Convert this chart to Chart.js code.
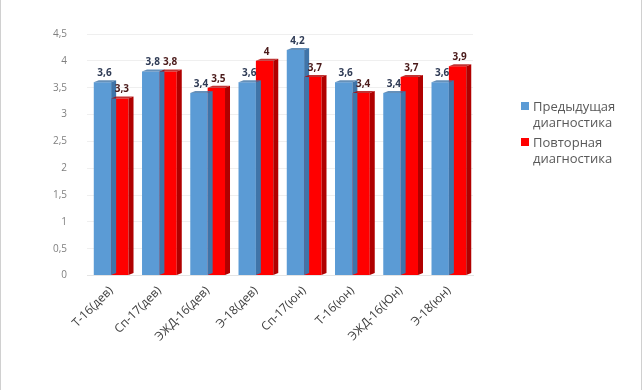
<!DOCTYPE html>
<html>
<head>
<meta charset="utf-8">
<script src="https://cdn.jsdelivr.net/npm/chart.js@4.4.1/dist/chart.umd.min.js"></script>
<style>
  html, body { margin: 0; padding: 0; background: #fff; }
  #wrap { position: relative; width: 642px; height: 390px; box-sizing: border-box;
          border-left: 1px solid #d0d0d0; border-right: 1px solid #d0d0d0; }
  #legend { position: absolute; left: 520px; top: 98px; font-family: "Open Sans", "DejaVu Sans", sans-serif;
            font-size: 13px; color: #595959; line-height: 16px; }
  #legend .item { position: relative; padding-left: 12px; margin-bottom: 4px; }
  #legend .sw { position: absolute; left: 0; top: 4px; width: 8px; height: 8px; }
</style>
</head>
<body>
<div id="wrap">
  <canvas id="c" width="640" height="390"></canvas>
  <div id="legend"></div>
</div>
<script>
// категории и значения
const groups = ['Т-16(дев)', 'Сп-17(дев)', 'ЭЖД-16(дев)', 'Э-18(дев)', 'Сп-17(юн)', 'Т-16(юн)', 'ЭЖД-16(Юн)', 'Э-18(юн)'];
const prevDiag = [3.6, 3.8, 3.4, 3.6, 4.2, 3.6, 3.4, 3.6];
const repeatDiag = [3.3, 3.8, 3.5, 4, 3.7, 3.4, 3.7, 3.9];
const seriesNames = [['Предыдущая', 'диагностика'], ['Повторная', 'диагностика']];

const BLUE = '#5b9bd5', BLUE_SIDE = '#3f74a8';
const RED = '#ff0000', RED_SIDE = '#b00000';

function comma(v) { return String(v).replace('.', ','); }

// боковые грани баров (псевдо-3D) и подписи значений
const bars3d = {
  id: 'bars3d',
  afterDatasetsDraw(chart) {
    const ctx = chart.ctx;
    const sides = [BLUE_SIDE, RED_SIDE];
    const labelColors = ['#2f3b55', '#4a1a1a'];
    chart.data.datasets.forEach((ds, di) => {
      const meta = chart.getDatasetMeta(di);
      meta.data.forEach((bar, i) => {
        const half = bar.width / 2;
        const right = bar.x + half;
        const d = 5;
        ctx.save();
        ctx.fillStyle = sides[di];
        ctx.beginPath();
        ctx.moveTo(right, bar.y);
        ctx.lineTo(right + d, bar.y - 2);
        ctx.lineTo(right + d, bar.base - 2);
        ctx.lineTo(right, bar.base);
        ctx.closePath();
        ctx.fill();
        ctx.globalAlpha = 0.8;
        ctx.beginPath();
        ctx.moveTo(bar.x - half, bar.y);
        ctx.lineTo(bar.x - half + d, bar.y - 2);
        ctx.lineTo(right + d, bar.y - 2);
        ctx.lineTo(right, bar.y);
        ctx.closePath();
        ctx.fill();
        ctx.globalAlpha = 1;
        ctx.fillStyle = labelColors[di];
        ctx.font = 'bold 10px "Open Sans", "DejaVu Sans", sans-serif';
        ctx.textAlign = 'center';
        ctx.textBaseline = 'bottom';
        ctx.fillText(comma(ds.data[i]), bar.x + 2, bar.y - 4);
        ctx.restore();
      });
    });
  }
};

new Chart(document.getElementById('c'), {
  type: 'bar',
  data: {
    labels: groups,
    datasets: [
      { label: seriesNames[0].join(' '), data: prevDiag, backgroundColor: BLUE },
      { label: seriesNames[1].join(' '), data: repeatDiag, backgroundColor: RED }
    ]
  },
  options: {
    responsive: false,
    animation: false,
    layout: { padding: { left: 32, right: 168, top: 34, bottom: 38 } },
    plugins: { legend: { display: false }, tooltip: { enabled: false } },
    datasets: { bar: { categoryPercentage: 0.72, barPercentage: 1 } },
    scales: {
      y: {
        min: 0, max: 4.5,
        ticks: { stepSize: 0.5, color: '#7f7f7f', padding: 20,
                 font: { size: 10, family: '"Open Sans", "DejaVu Sans", sans-serif' },
                 callback: v => comma(v) },
        grid: { color: '#efefef', drawTicks: false },
        border: { display: false }
      },
      x: {
        ticks: { minRotation: 45, maxRotation: 45, color: '#404040', padding: 8,
                 font: { size: 12, family: '"Open Sans", "DejaVu Sans", sans-serif' } },
        grid: { display: false, drawTicks: false },
        border: { color: '#e4e4e4' }
      }
    }
  },
  plugins: [bars3d]
});

// легенда
const legend = document.getElementById('legend');
[BLUE, RED].forEach((col, i) => {
  const item = document.createElement('div');
  item.className = 'item';
  item.innerHTML = '<span class="sw" style="background:' + col + '"></span>' + seriesNames[i].join('<br>');
  legend.appendChild(item);
});
</script>
</body>
</html>
